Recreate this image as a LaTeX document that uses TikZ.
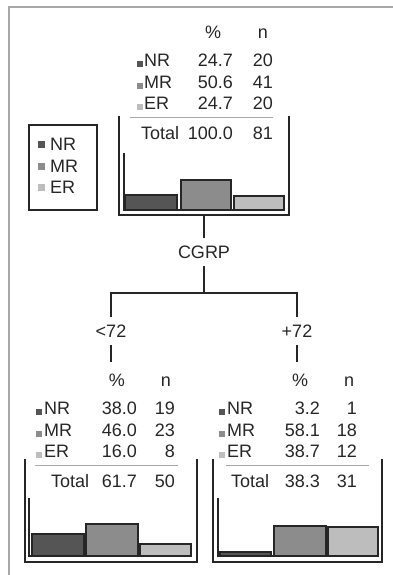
\documentclass[tikz,border=0pt]{standalone}
\usepackage{fontspec}
\setmainfont{Liberation Sans}
\definecolor{ink}{HTML}{262626}
\definecolor{nrfill}{HTML}{555555}
\definecolor{mrfill}{HTML}{8C8C8C}
\definecolor{erfill}{HTML}{BDBDBD}
\definecolor{rulegray}{HTML}{A8A8A8}
\begin{document}
\begin{tikzpicture}[x=1pt, y=-1pt,
    txt/.style={font=\fontsize{18}{20}\selectfont, text=ink, inner sep=0pt, text height=12.9pt, text depth=0pt},
    split/.style={txt, inner sep=7pt},
    bar/.style={draw=black!85, line width=1.8pt},
    bucket/.style={draw=ink, line width=1.7pt},
    branch/.style={draw=ink, line width=1.9pt},
    sep/.style={draw=rulegray, line width=1pt}]
    \useasboundingbox (0,0) rectangle (393,575);

    % Frame
    \draw[rulegray, line width=1.5pt] (393,7) -- (9,7) -- (9,575);

    % Legend
    \draw[bucket] (29,125) rectangle (97,210);
    \fill[nrfill] (38,141) rectangle (45,148);
    \node[txt, anchor=west] (legnr) at (50,144) {NR};
    \fill[mrfill] (38,163) rectangle (45,170);
    \node[txt, anchor=west] (legmr) at (50,166) {MR};
    \fill[erfill] (38,184) rectangle (45,191);
    \node[txt, anchor=west] (leger) at (50,187) {ER};

    % Top table: all patients
    \node[txt] (tpct) at (213,32) {\%};
    \node[txt] (tn) at (263,32) {n};
    \fill[nrfill] (137,61) rectangle (143,67);
    \node[txt, anchor=west] (tnr) at (144,60) {NR};
    \node[txt, anchor=east] at (233,60) {24.7};
    \node[txt, anchor=east] at (273,60) {20};
    \fill[mrfill] (137,83) rectangle (143,89);
    \node[txt, anchor=west] (tmr) at (144,82) {MR};
    \node[txt, anchor=east] at (233,82) {50.6};
    \node[txt, anchor=east] at (273,82) {41};
    \fill[erfill] (137,104) rectangle (143,110);
    \node[txt, anchor=west] (ter) at (144,103) {ER};
    \node[txt, anchor=east] at (233,103) {24.7};
    \node[txt, anchor=east] at (273,103) {20};
    \draw[sep] (130,118) -- (273,118);
    \node[txt, anchor=west] (ttot) at (141,133) {Total};
    \node[txt, anchor=east] at (233,133) {100.0};
    \node[txt, anchor=east] at (273,133) {81};

    % Top bucket with bars
    \draw[bucket] (119,116) -- (119,215) -- (289,215) -- (289,116);
    \draw[bucket] (124,153) -- (124,210) -- (284,210);
    \draw[bar, fill=nrfill] (125,195) rectangle (177,210);
    \draw[bar, fill=mrfill] (181,180) rectangle (231,210);
    \draw[bar, fill=erfill] (234,196) rectangle (284,210);

    % Split on CGRP
    \coordinate (root) at (204,215);
    \node[split] (cgrp) at (204,252) {CGRP};
    \coordinate (fork) at (204,293);
    \node[split] (lo) at (111,331) {<72};
    \node[split] (hi) at (297,331) {+72};
    \coordinate (lotab) at (111,362);
    \coordinate (hitab) at (297,362);
    \draw[branch] (root) -- (cgrp);
    \draw[branch] (cgrp) -- (fork);
    \draw[branch] (lo) |- (fork) -| (hi);
    \draw[branch] (lo) -- (lotab);
    \draw[branch] (hi) -- (hitab);

    % Lower left table: <72
    \node[txt] (lpct) at (117,380) {\%};
    \node[txt] (ln) at (166,380) {n};
    \fill[nrfill] (36,409) rectangle (42,415);
    \node[txt, anchor=west] (lnr) at (44,408) {NR};
    \node[txt, anchor=east] at (137,408) {38.0};
    \node[txt, anchor=east] at (175,408) {19};
    \fill[mrfill] (36,431) rectangle (42,437);
    \node[txt, anchor=west] (lmr) at (44,430) {MR};
    \node[txt, anchor=east] at (137,430) {46.0};
    \node[txt, anchor=east] at (175,430) {23};
    \fill[erfill] (36,452) rectangle (42,458);
    \node[txt, anchor=west] (ler) at (44,451) {ER};
    \node[txt, anchor=east] at (137,451) {16.0};
    \node[txt, anchor=east] at (175,451) {8};
    \draw[sep] (35,465) -- (178,465);
    \node[txt, anchor=west] (ltot) at (51,481) {Total};
    \node[txt, anchor=east] at (137,481) {61.7};
    \node[txt, anchor=east] at (175,481) {50};

    \draw[bucket] (25,459) -- (25,562) -- (197,562) -- (197,459);
    \draw[bucket] (29,498) -- (29,556) -- (192,556);
    \draw[bar, fill=nrfill] (32,534) rectangle (84,556);
    \draw[bar, fill=mrfill] (86,524) rectangle (138,556);
    \draw[bar, fill=erfill] (140,544) rectangle (191,556);

    % Lower right table: +72
    \node[txt] (rpct) at (300,380) {\%};
    \node[txt] (rn) at (349,380) {n};
    \fill[nrfill] (219,409) rectangle (225,415);
    \node[txt, anchor=west] (rnr) at (227,408) {NR};
    \node[txt, anchor=east] at (320,408) {3.2};
    \node[txt, anchor=east] at (357,408) {1};
    \fill[mrfill] (219,431) rectangle (225,437);
    \node[txt, anchor=west] (rmr) at (227,430) {MR};
    \node[txt, anchor=east] at (320,430) {58.1};
    \node[txt, anchor=east] at (357,430) {18};
    \fill[erfill] (219,452) rectangle (225,458);
    \node[txt, anchor=west] (rer) at (227,451) {ER};
    \node[txt, anchor=east] at (320,451) {38.7};
    \node[txt, anchor=east] at (357,451) {12};
    \draw[sep] (226,465) -- (369,465);
    \node[txt, anchor=west] (rtot) at (231,481) {Total};
    \node[txt, anchor=east] at (320,481) {38.3};
    \node[txt, anchor=east] at (357,481) {31};

    \draw[bucket] (213,459) -- (213,562) -- (382,562) -- (382,459);
    \draw[bucket] (218,498) -- (218,556) -- (378,556);
    \draw[bar, fill=nrfill] (220,552) rectangle (271,556);
    \draw[bar, fill=mrfill] (274,526) rectangle (326,556);
    \draw[bar, fill=erfill] (328,527) rectangle (378,556);
\end{tikzpicture}
\end{document}
